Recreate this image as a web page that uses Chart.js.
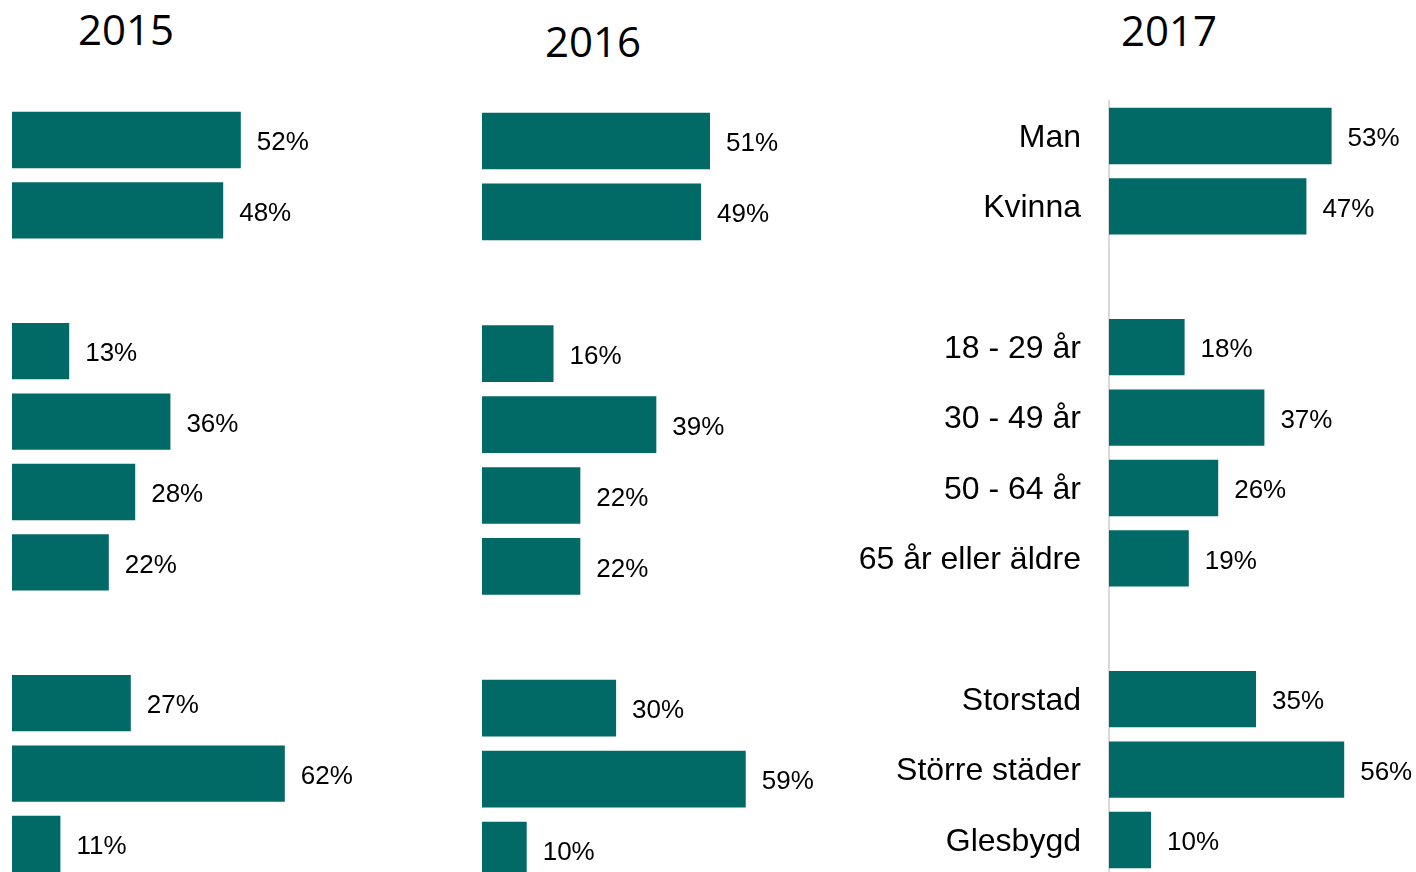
<!DOCTYPE html>
<html>
<head>
<meta charset="utf-8">
<script src="https://cdn.jsdelivr.net/npm/chart.js@4/dist/chart.umd.min.js"></script>
<style>
  html, body { margin: 0; padding: 0; background: #ffffff; }
  body { width: 1416px; height: 872px; overflow: hidden; position: relative; }
  canvas { position: absolute; top: 0; }
  .year {
    position: absolute; width: 200px; text-align: center;
    font-family: "Open Sans", sans-serif; font-size: 42px; line-height: 42px;
    color: #000000;
  }
</style>
</head>
<body>
<div class="year" id="t2015" style="left:26px; top:8px;">2015</div>
<div class="year" id="t2016" style="left:493px; top:20px;">2016</div>
<div class="year" id="t2017" style="left:1069px; top:9px;">2017</div>
<canvas id="c2015" width="440" height="880" style="left:0px"></canvas>
<canvas id="c2016" width="420" height="886" style="left:470px"></canvas>
<canvas id="c2017" width="576" height="876" style="left:840px"></canvas>
<script>
// Survey groups (empty strings separate the three blocks)
const categories = ['Man', 'Kvinna', '', '18 - 29 år', '30 - 49 år', '50 - 64 år',
  '65 år eller äldre', '', 'Storstad', 'Större städer', 'Glesbygd'];

// Share of respondents per group, in percent
const values2015 = [52, 48, null, 13, 36, 28, 22, null, 27, 62, 11];
const values2016 = [51, 49, null, 16, 39, 22, 22, null, 30, 59, 10];
const values2017 = [53, 47, null, 18, 37, 26, 19, null, 35, 56, 10];

const BAR_COLOR = '#016966';
const LABEL_FONT = '"Liberation Sans", Arial, sans-serif';

// Writes "NN%" just right of each bar
const valueLabels = {
  id: 'valueLabels',
  afterDatasetsDraw(chart) {
    const ctx = chart.ctx;
    const ds = chart.data.datasets[0];
    const meta = chart.getDatasetMeta(0);
    ctx.save();
    ctx.font = '26px ' + LABEL_FONT;
    ctx.fillStyle = '#000000';
    ctx.textAlign = 'left';
    ctx.textBaseline = 'middle';
    meta.data.forEach((el, i) => {
      const v = ds.data[i];
      if (v === null || v === undefined) return;
      ctx.fillText(v + '%', el.x + 16, el.y + 3);
    });
    ctx.restore();
  }
};

function makeChart(id, values, padding, showCategories) {
  return new Chart(document.getElementById(id), {
    type: 'bar',
    data: {
      labels: categories,
      datasets: [{
        data: values,
        backgroundColor: BAR_COLOR,
        borderWidth: 0,
        barPercentage: 0.8,
        categoryPercentage: 1.0
      }]
    },
    options: {
      indexAxis: 'y',
      responsive: false,
      animation: false,
      devicePixelRatio: 1,
      layout: { padding: padding },
      plugins: { legend: { display: false }, tooltip: { enabled: false }, title: { display: false } },
      scales: {
        x: { display: false, min: 0, max: 70 },
        y: showCategories ? {
          display: true,
          grid: { display: false, drawTicks: false },
          border: { display: true, color: '#d9d9d9', width: 2 },
          ticks: {
            color: '#000000',
            font: { family: LABEL_FONT, size: 32 },
            padding: 28,
            labelOffset: 2,
            autoSkip: false
          },
          afterFit(scale) {
            scale.width = 269;
            scale.paddingTop = 0;
            scale.paddingBottom = 0;
          }
        } : { display: false }
      }
    },
    plugins: [valueLabels]
  });
}

makeChart('c2015', values2015, { left: 12, right: 120, top: 104.8, bottom: 0.8 }, false);
makeChart('c2016', values2016, { left: 12, right: 95.1, top: 105.55, bottom: 0.55 }, false);
makeChart('c2017', values2017, { left: 0, right: 13, top: 100.8, bottom: 0.8 }, true);
</script>
</body>
</html>
